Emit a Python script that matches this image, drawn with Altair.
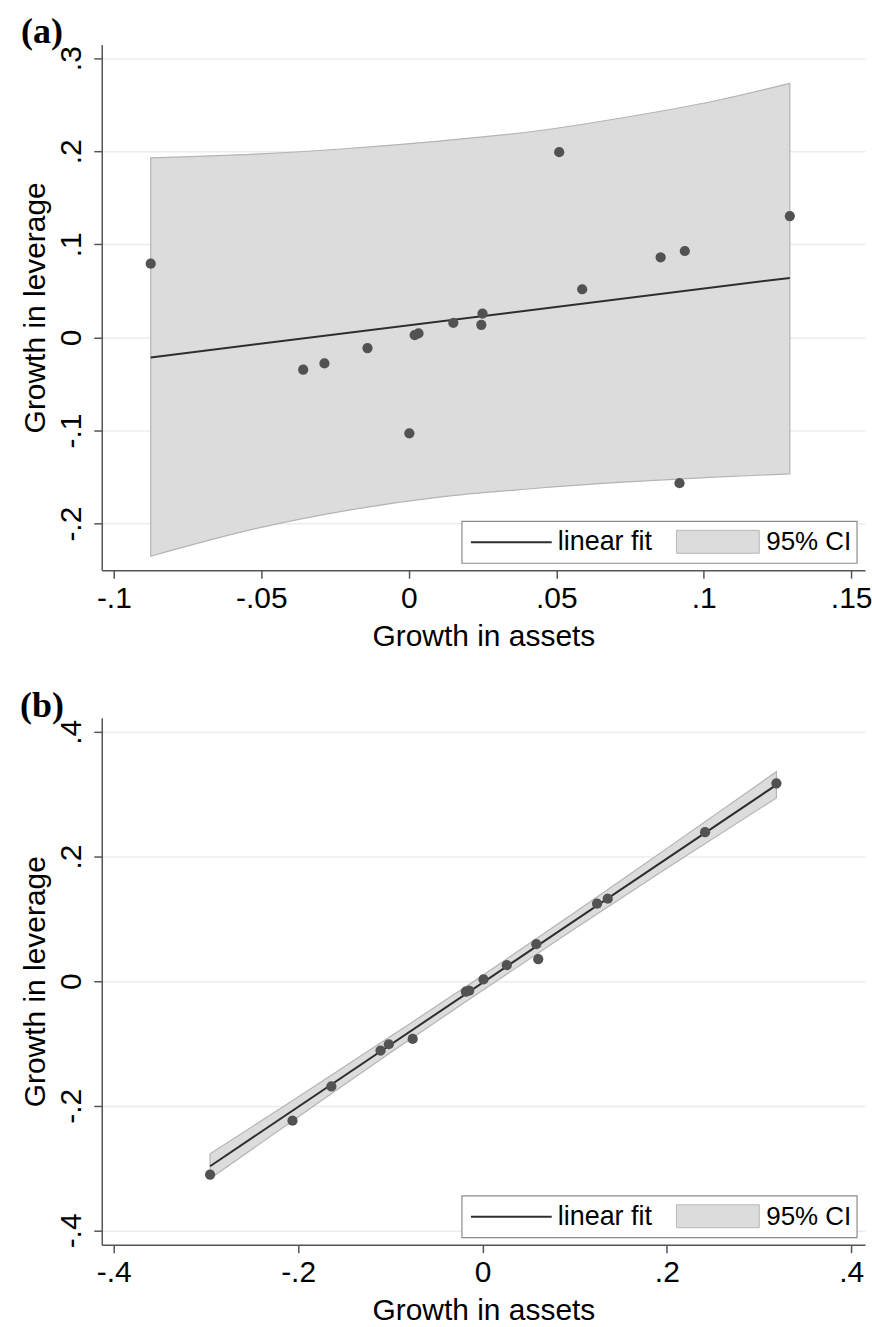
import altair as alt
import pandas as pd

# ---------------- Panel (a) data ----------------
a_x = [-0.0875, 0.0510, 0.1292, 0.0854, 0.0936, 0.0588, 0.0250, 0.0246,
       0.0151, 0.0033, 0.0020, -0.0140, -0.0286, -0.0358, 0.0002, 0.0918]
a_y = [0.0793, 0.1990, 0.1304, 0.0861, 0.0929, 0.0518, 0.0257, 0.0136,
       0.0158, 0.0043, 0.0026, -0.0114, -0.0279, -0.0346, -0.1029, -0.1565]
a_fit_x = [-0.0875, 0.1292]
a_fit_y = [-0.0214, 0.0640]
a_ci_x = [-0.0875, -0.052, -0.0208, 0.0103, 0.0414, 0.0725, 0.1036, 0.1292]
a_ci_lo = [-0.235, -0.2054, -0.1857, -0.1715, -0.1625, -0.1554, -0.150, -0.1465]
a_ci_hi = [0.193, 0.197, 0.203, 0.211, 0.221, 0.236, 0.254, 0.273]
a_xticks = [-0.1, -0.05, 0, 0.05, 0.1, 0.15]
a_yticks = [-0.2, -0.1, 0, 0.1, 0.2, 0.3]

# ---------------- Panel (b) data ----------------
b_x = [-0.2955, -0.2061, -0.1639, -0.1106, -0.1016, -0.0757, -0.0180, -0.0144,
       0.0011, 0.0264, 0.0584, 0.0605, 0.1243, 0.1359, 0.2415, 0.3189]
b_y = [-0.3104, -0.2240, -0.1690, -0.1114, -0.1013, -0.0928, -0.0170, -0.0154,
       0.0027, 0.0256, 0.0592, 0.0352, 0.1243, 0.1323, 0.2390, 0.3174]
b_fit_x = [-0.2955, 0.3189]
b_fit_y = [-0.297, 0.315]
b_ci_x = [-0.2955, -0.2, -0.1, 0.0, 0.1, 0.2, 0.3189]
b_ci_lo = [-0.317, -0.218, -0.115, -0.015, 0.084, 0.181, 0.294]
b_ci_hi = [-0.277, -0.186, -0.089, 0.009, 0.110, 0.213, 0.336]
b_xticks = [-0.4, -0.2, 0, 0.2, 0.4]
b_yticks = [-0.4, -0.2, 0, 0.2, 0.4]

legend_labels = ["linear fit", "95% CI"]
x_title = "Growth in assets"
y_title = "Growth in leverage"

LBL = "replace(toString(datum.value), '0.', '.')"
SANS = "Liberation Sans"
AXC = "#555555"


def one():
    return pd.DataFrame({"k": [0]})


def panel(px, py, fx, fy, cx, clo, chi, xdom, ydom, xt, yt, tag, w, h):
    pts = pd.DataFrame({"x": px, "y": py})
    fit = pd.DataFrame({"x": fx, "y": fy})
    ci = pd.DataFrame({"x": cx, "lo": clo, "hi": chi})
    xs = alt.Scale(domain=xdom, nice=False, zero=False)
    ys = alt.Scale(domain=ydom, nice=False, zero=False)
    xax = alt.Axis(values=xt, title=x_title, grid=False, labelExpr=LBL,
                   tickSize=8, labelPadding=5, titlePadding=8,
                   labelFlush=False)
    yax = alt.Axis(values=yt, title=y_title, grid=True, labelExpr=LBL,
                   labelAngle=270, labelAlign="center", labelBaseline="bottom",
                   tickSize=8, labelPadding=7, titlePadding=6,
                   labelFlush=False)

    band = alt.Chart(ci).mark_area(
        fill="#dcdcdc", stroke="#b4b4b4", strokeWidth=1.2, interpolate="monotone"
    ).encode(
        x=alt.X("x:Q", scale=xs, axis=xax),
        y=alt.Y("lo:Q", scale=ys, axis=yax),
        y2="hi:Q",
    )
    line = alt.Chart(fit).mark_line(color="#2e2e2e", strokeWidth=2).encode(
        x=alt.X("x:Q", scale=xs), y=alt.Y("y:Q", scale=ys)
    )
    dots = alt.Chart(pts).mark_circle(size=105, color="#525252", opacity=1).encode(
        x=alt.X("x:Q", scale=xs), y=alt.Y("y:Q", scale=ys)
    )
    # legend box (decoration)
    box = alt.Chart(one()).mark_rect(fill="white", stroke="#8c8c8c", strokeWidth=1.2).encode(
        x=alt.value(361), x2=alt.value(757), y=alt.value(h - 49), y2=alt.value(h - 7)
    )
    lline = alt.Chart(one()).mark_rule(color="#2e2e2e", strokeWidth=2).encode(
        x=alt.value(370), x2=alt.value(451), y=alt.value(h - 28)
    )
    ltxt1 = alt.Chart(one()).mark_text(
        align="left", baseline="middle", font=SANS, fontSize=27, color="black"
    ).encode(x=alt.value(457), y=alt.value(h - 28), text=alt.value(legend_labels[0]))
    swatch = alt.Chart(one()).mark_rect(fill="#dcdcdc", stroke="#b8b8b8", strokeWidth=1).encode(
        x=alt.value(576), x2=alt.value(659), y=alt.value(h - 40), y2=alt.value(h - 17)
    )
    ltxt2 = alt.Chart(one()).mark_text(
        align="left", baseline="middle", font=SANS, fontSize=26, color="black"
    ).encode(x=alt.value(666), y=alt.value(h - 28), text=alt.value(legend_labels[1]))
    tagt = alt.Chart(one()).mark_text(
        align="center", baseline="middle", font="Liberation Serif", fontWeight="bold",
        fontSize=36, color="black"
    ).encode(x=alt.value(-60), y=alt.value(-12), text=alt.value(tag))

    return alt.layer(band, line, dots, box, lline, ltxt1, swatch, ltxt2, tagt).properties(
        width=w, height=h
    )


pa = panel(a_x, a_y, a_fit_x, a_fit_y, a_ci_x, a_ci_lo, a_ci_hi,
           [-0.1041, 0.1547], [-0.25, 0.3148], a_xticks, a_yticks, "(a)", 765, 527)
pb = panel(b_x, b_y, b_fit_x, b_fit_y, b_ci_x, b_ci_lo, b_ci_hi,
           [-0.413, 0.415], [-0.4229, 0.4224], b_xticks, b_yticks, "(b)", 765, 528)

chart = alt.vconcat(pa, pb, spacing=37).properties(
    padding={"left": 20, "top": 13, "right": 0, "bottom": 0},
    background="white",
).configure_view(stroke=None).configure_axis(
    domainColor=AXC, tickColor=AXC, domainWidth=1.5, tickWidth=1.5,
    gridColor="#ececec", gridWidth=1.5,
    labelFont=SANS, labelFontSize=30, labelColor="black",
    titleFont=SANS, titleFontSize=30, titleFontWeight="normal", titleColor="black",
)

chart.save("out.html", embed_options={"renderer": "svg", "actions": False})
